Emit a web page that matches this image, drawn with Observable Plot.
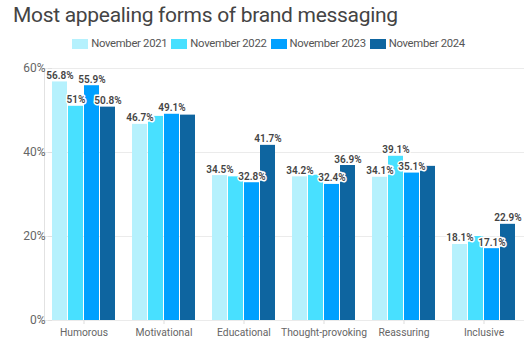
<!DOCTYPE html>
<html>
<head>
<meta charset="utf-8">
<script src="https://cdn.jsdelivr.net/npm/d3@7"></script>
<script src="https://cdn.jsdelivr.net/npm/@observablehq/plot@0.6"></script>
<style>
  html, body { margin: 0; padding: 0; background: #fff; }
  body { width: 529px; height: 354px; overflow: hidden; font-family: Roboto, "Noto Sans", sans-serif; }
  #title { position: absolute; left: 13px; top: 3px; font-size: 21px; color: #444; white-space: nowrap; letter-spacing: -0.3px; }
  #legend { position: absolute; left: 0; top: 37px; width: 529px; display: flex; justify-content: center; padding-left: 12px; box-sizing: border-box; }
  .item { display: flex; align-items: center; margin-right: 4px; font-size: 11.3px; letter-spacing: -0.3px; color: #555; }
  .sw { width: 16px; height: 10px; margin-right: 3px; }
  #chart { position: absolute; left: 0; top: 56px; }
</style>
</head>
<body>
<div id="title">Most appealing forms of brand messaging</div>
<div id="legend"></div>
<div id="chart"></div>
<script>
const categories = ["Humorous", "Motivational", "Educational", "Thought-provoking", "Reassuring", "Inclusive"];
const years = ["November 2021", "November 2022", "November 2023", "November 2024"];
const colors = ["#b5f1fd", "#48e0ff", "#00a0ff", "#0e65a0"];
const v2021 = [56.8, 46.7, 34.5, 34.2, 34.1, 18.1];
const v2022 = [51.0, 48.6, 34.2, 34.6, 39.1, 20.0];
const v2023 = [55.9, 49.1, 32.8, 32.4, 35.1, 17.1];
const v2024 = [50.8, 48.9, 41.7, 36.9, 36.7, 22.9];
// which value labels are printed in the original
const shown2021 = [true, true, true, true, true, true];
const shown2022 = [true, false, false, false, true, false];
const shown2023 = [true, true, true, true, true, true];
const shown2024 = [true, false, true, true, false, true];
const yTicks = [0, 20, 40, 60];

const series = [v2021, v2022, v2023, v2024];
const shown = [shown2021, shown2022, shown2023, shown2024];
const data = [];
categories.forEach((c, i) => {
  years.forEach((yr, j) => {
    data.push({category: c, year: yr, value: series[j][i], show: shown[j][i]});
  });
});

// legend
const legend = document.getElementById("legend");
years.forEach((yr, j) => {
  const it = document.createElement("div");
  it.className = "item";
  const sw = document.createElement("div");
  sw.className = "sw";
  sw.style.background = colors[j];
  const tx = document.createElement("span");
  tx.textContent = yr;
  it.appendChild(sw); it.appendChild(tx);
  legend.appendChild(it);
});

const chart = Plot.plot({
  width: 529,
  height: 298,
  marginTop: 12,
  marginBottom: 34,
  marginLeft: 42,
  marginRight: 3,
  style: {fontFamily: "Roboto, sans-serif", background: "#fff"},
  fx: {domain: categories, paddingInner: 0.21, paddingOuter: 0.105, label: null},
  x: {domain: years, paddingInner: 0.07, paddingOuter: 0, axis: null},
  y: {domain: [0, 60], label: null},
  color: {domain: years, range: colors},
  marks: [
    Plot.ruleY(yTicks, {stroke: "#ebebeb", strokeWidth: 1, insetLeft: -9, insetRight: -9}),
    Plot.frame({anchor: "left", fx: [categories[0]], insetLeft: -8, stroke: "#e2e2e2"}),
    Plot.axisY({ticks: yTicks, tickFormat: d => d + "%", tickSize: 4, tickPadding: 3, stroke: "#e0e0e0", fill: "#666", fontSize: 12, label: null}),
    Plot.axisFx({anchor: "bottom", tickSize: 4, tickPadding: 4, stroke: "#ddd", fill: "#666", fontSize: 10.3, label: null}),
    Plot.barY(data, {fx: "category", x: "year", y: "value", fill: "year"}),
    Plot.text(data.filter(d => d.show), {
      fx: "category", x: "year", y: "value",
      text: d => d.value + "%",
      lineAnchor: "bottom", dy: -3,
      fontSize: 10, fontWeight: 600, fill: "#444",
      stroke: "white", strokeWidth: 3
    })
  ]
});
document.getElementById("chart").appendChild(chart);
</script>
</body>
</html>
